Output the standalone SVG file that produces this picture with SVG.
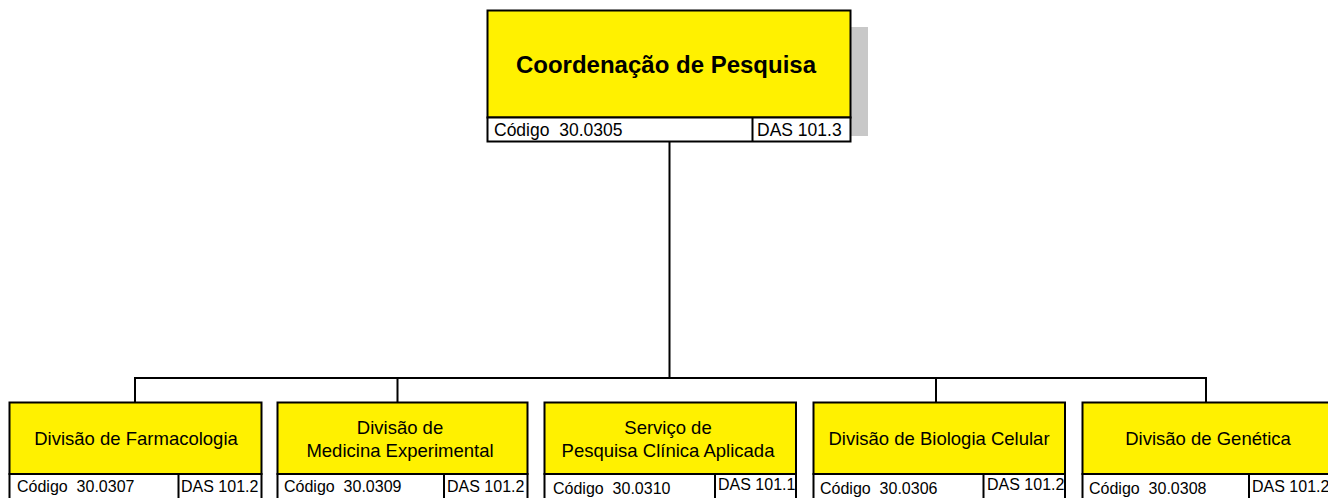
<svg xmlns="http://www.w3.org/2000/svg" width="1328" height="498" viewBox="0 0 1328 498">
<style>
.y{fill:#FFF100;stroke:#000;stroke-width:2}
.w{fill:#fff;stroke:#000;stroke-width:2}
.ln{fill:none;stroke:#000;stroke-width:2}
text{font-family:"Liberation Sans",Arial,sans-serif;fill:#000;white-space:pre}
.t{font-size:18.5px;text-anchor:middle}
.c{font-size:16px}
.c2{font-size:17.5px}
.tt{font-size:24px;font-weight:bold;text-anchor:middle}
</style>
<rect width="1328" height="498" fill="#fff"/>
<g id="connectors">
<path class="ln" d="M669.5 142V378M135 402V378H1206V402M397.5 378V402M936 378V402"/>
</g>
<g id="n0">
<rect x="500" y="27" width="368" height="109" fill="#c8c8c8"/>
<rect class="y" x="487.5" y="10.5" width="363" height="107"/>
<rect class="w" x="487.5" y="117.5" width="363" height="24"/>
<line class="ln" x1="752.5" y1="117.5" x2="752.5" y2="141.5"/>
<text class="tt" x="666" y="73">Coordenação de Pesquisa</text>
<text class="c2" x="494" y="136" xml:space="preserve">Código  30.0305</text>
<text class="c2" x="757" y="136">DAS 101.3</text>
</g>
<g id="n1">
<rect class="y" x="9.5" y="402.5" width="252" height="71.5"/>
<rect class="w" x="9.5" y="474" width="252" height="40"/>
<line class="ln" x1="178.5" y1="474" x2="178.5" y2="510"/>
<text class="t" x="136" y="445">Divisão de Farmacologia</text>
<text class="c" x="17" y="492" xml:space="preserve">Código  30.0307</text>
<text class="c" x="181" y="492">DAS 101.2</text>
</g>
<g id="n2">
<rect class="y" x="277.5" y="402.5" width="250" height="71.5"/>
<rect class="w" x="277.5" y="474" width="250" height="40"/>
<line class="ln" x1="444" y1="474" x2="444" y2="510"/>
<text class="t" x="400" y="434">Divisão de</text>
<text class="t" x="400" y="457">Medicina Experimental</text>
<text class="c" x="284" y="492" xml:space="preserve">Código  30.0309</text>
<text class="c" x="447" y="492">DAS 101.2</text>
</g>
<g id="n3">
<rect class="y" x="544.5" y="402.5" width="251.5" height="71.5"/>
<rect class="w" x="544.5" y="474" width="251.5" height="40"/>
<line class="ln" x1="715" y1="474" x2="715" y2="510"/>
<text class="t" x="668" y="434">Serviço de</text>
<text class="t" x="668" y="457">Pesquisa Clínica Aplicada</text>
<text class="c" x="553" y="494" xml:space="preserve">Código  30.0310</text>
<text class="c" x="718" y="490">DAS 101.1</text>
</g>
<g id="n4">
<rect class="y" x="813.5" y="402.5" width="251.5" height="71.5"/>
<rect class="w" x="813.5" y="474" width="251.5" height="40"/>
<line class="ln" x1="983.5" y1="474" x2="983.5" y2="510"/>
<text class="t" x="939" y="445">Divisão de Biologia Celular</text>
<text class="c" x="820" y="494" xml:space="preserve">Código  30.0306</text>
<text class="c" x="987" y="490">DAS 101.2</text>
</g>
<g id="n5">
<rect class="y" x="1082.5" y="402.5" width="250" height="71.5"/>
<rect class="w" x="1082.5" y="474" width="250" height="40"/>
<line class="ln" x1="1249" y1="474" x2="1249" y2="510"/>
<text class="t" x="1208" y="445">Divisão de Genética</text>
<text class="c" x="1089" y="494" xml:space="preserve">Código  30.0308</text>
<text class="c" x="1252" y="492">DAS 101.2</text>
</g>
</svg>
